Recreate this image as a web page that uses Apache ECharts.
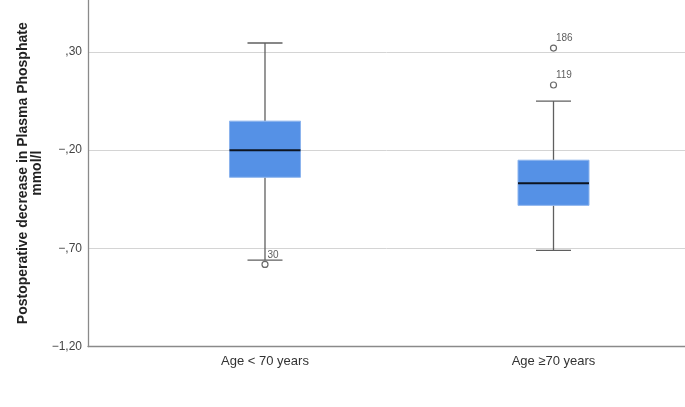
<!doctype html>
<html>
<head>
<meta charset="utf-8">
<script src="https://cdn.jsdelivr.net/npm/echarts@6/dist/echarts.min.js"></script>
<style>
  html, body { margin: 0; padding: 0; background: #fff; }
  #chart { width: 685px; height: 407px; }
</style>
</head>
<body>
<div id="chart"></div>
<script>
  // groups on the x axis
  var categories = ['Age < 70 years', 'Age \u226570 years'];
  // [min whisker, Q1, median, Q3, max whisker] per group
  var boxStats = [
    [-0.76, -0.338, -0.20, -0.052, 0.346],
    [-0.71, -0.481, -0.368, -0.251, 0.05]
  ];
  // outliers: [group index, value, case label]
  var outliers = [
    [0, -0.782, '30'],
    [1, 0.32, '186'],
    [1, 0.132, '119']
  ];
  var yTicks = [-1.2, -0.7, -0.2, 0.3];

  function fmt(v) {
    var s = Math.abs(v).toFixed(2).replace('.', ',');
    if (s.charAt(0) === '0') s = s.slice(1);
    return (v < 0 ? '\u2212' : '') + s;
  }

  var chart = echarts.init(document.getElementById('chart'));

  var boxData = boxStats.map(function (s, i) { return [i].concat(s); });

  function renderBox(params, api) {
    var x = api.value(0);
    var lo = api.coord([x, api.value(1)]);
    var q1 = api.coord([x, api.value(2)]);
    var md = api.coord([x, api.value(3)]);
    var q3 = api.coord([x, api.value(4)]);
    var hi = api.coord([x, api.value(5)]);
    var cx = lo[0];
    var hw = 35.5, cw = 17.5;
    var wStyle = { stroke: '#5f5f5f', lineWidth: 1.3 };
    return {
      type: 'group',
      children: [
        { type: 'line', shape: { x1: cx, y1: hi[1], x2: cx, y2: q3[1] }, style: wStyle },
        { type: 'line', shape: { x1: cx, y1: q1[1], x2: cx, y2: lo[1] }, style: wStyle },
        { type: 'line', shape: { x1: cx - cw, y1: hi[1], x2: cx + cw, y2: hi[1] }, style: wStyle },
        { type: 'line', shape: { x1: cx - cw, y1: lo[1], x2: cx + cw, y2: lo[1] }, style: wStyle },
        { type: 'rect', shape: { x: cx - hw, y: q3[1], width: hw * 2, height: q1[1] - q3[1] },
          style: { fill: '#5591e6', stroke: '#8cb4ee', lineWidth: 1 } },
        { type: 'line', shape: { x1: cx - hw, y1: md[1], x2: cx + hw, y2: md[1] },
          style: { stroke: '#0d1420', lineWidth: 2 } }
      ]
    };
  }

  var option = {
    animation: false,
    grid: { left: 88, right: 0, top: 0, bottom: 60.5, outerBoundsMode: 'none', containLabel: false },
    xAxis: {
      type: 'value',
      min: -0.6135,
      max: 1.4558,
      axisLine: { show: true, onZero: false, lineStyle: { color: '#8a8a8a', width: 1.3 } },
      axisTick: { show: false },
      splitLine: { show: false },
      axisLabel: {
        customValues: [0, 1],
        margin: 8,
        fontFamily: 'Liberation Sans, Arial, sans-serif',
        fontSize: 13,
        color: '#333',
        formatter: function (v) { return categories[Math.round(v)] || ''; }
      }
    },
    yAxis: {
      type: 'value',
      min: -1.2,
      max: 0.565,
      interval: 0.5,
      name: 'Postoperative decrease in Plasma Phosphate\nmmol/l',
      nameLocation: 'middle',
      nameGap: 44,
      nameMoveOverlap: false,
      nameTextStyle: {
        fontFamily: 'Liberation Sans, Arial, sans-serif',
        fontSize: 14,
        fontWeight: 'bold',
        color: '#222',
        lineHeight: 14
      },
      axisLine: { show: true, onZero: false, lineStyle: { color: '#8a8a8a', width: 1.3 } },
      axisTick: { show: false },
      splitLine: { show: true, showMaxLine: false, lineStyle: { color: '#d4d4d4', width: 1 } },
      axisLabel: {
        showMaxLabel: false,
        margin: 6,
        fontFamily: 'Liberation Sans, Arial, sans-serif',
        fontSize: 12,
        color: '#444',
        formatter: function (v) {
          for (var i = 0; i < yTicks.length; i++) {
            if (Math.abs(yTicks[i] - v) < 1e-6) return fmt(v);
          }
          return '';
        }
      }
    },
    series: [
      {
        type: 'custom',
        renderItem: renderBox,
        data: boxData,
        encode: { x: 0, y: [1, 2, 3, 4, 5] },
        z: 3
      },
      {
        type: 'scatter',
        symbol: 'circle',
        symbolSize: 6,
        itemStyle: { color: '#fff', borderColor: '#444', borderWidth: 1.2 },
        label: {
          show: true,
          position: [6, -11],
          fontFamily: 'Liberation Sans, Arial, sans-serif',
          fontSize: 10,
          color: '#333',
          formatter: function (p) { return p.value[2]; }
        },
        data: outliers,
        z: 4
      }
    ]
  };

  chart.setOption(option);
</script>
</body>
</html>
